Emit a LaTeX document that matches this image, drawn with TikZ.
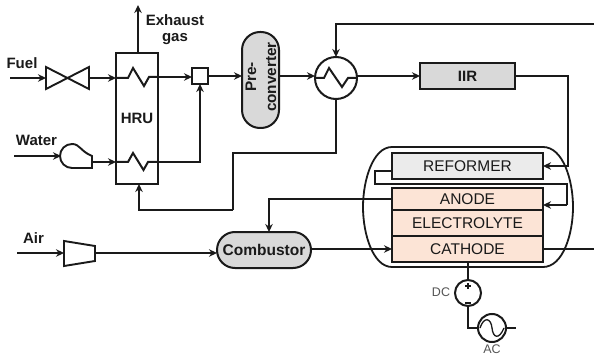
\documentclass[tikz,border=0pt]{standalone}
\usepackage{fontspec}
\setmainfont{Liberation Sans}
\usetikzlibrary{arrows.meta,calc}
\definecolor{ink}{HTML}{1A1A1A}
\definecolor{softgray}{HTML}{D9D9D9}
\definecolor{lightgray}{HTML}{EBEBEB}
\definecolor{peach}{HTML}{FCE4D6}
\definecolor{labelgray}{HTML}{555555}
\tikzset{
  pipe/.style={draw=ink,line width=2pt},
  flow/.style={pipe,-{Stealth[length=8pt,width=7.5pt]}},
  shell/.style={draw=ink,line width=2pt,inner sep=0pt,outer sep=0pt},
  anchorbox/.style={inner sep=0pt,outer sep=0pt},
  lab/.style={inner sep=0pt,font=\fontsize{15}{17}\selectfont\bfseries,text=ink},
  cell/.style={shell,fill=peach,minimum width=151pt,font=\fontsize{15.5}{17}\selectfont,text=ink},
  small/.style={inner sep=0pt,font=\fontsize{12.5}{14}\selectfont,text=labelgray}
}
\begin{document}
\begin{tikzpicture}[x=1pt,y=-1pt]
\useasboundingbox[fill=white] (0,0) rectangle (594,358);

% outer vessel
\draw[draw=ink,line width=1.8pt] (392,147) -- (543,147)
  .. controls (563,147) and (573,180) .. (573,207)
  .. controls (573,234) and (563,267) .. (543,267) -- (392,267)
  .. controls (373,267) and (363,234) .. (363,207)
  .. controls (363,180) and (373,147) .. (392,147);

% main nodes
\node[shell,minimum width=42pt,minimum height=131pt,lab] (hru) at (137,118.5) {HRU};
\node[shell,minimum width=16pt,minimum height=16pt] (mix) at (200,76) {};
\node[shell,fill=softgray,minimum width=37pt,minimum height=96pt,rounded corners=18pt] (pre) at (260.5,80) {};
\node[lab,rotate=90,align=center,font=\fontsize{15.3}{20}\selectfont\bfseries] at (261,77) {Pre-\\converter};
\node[shell,circle,minimum size=42pt] (hx) at (336,78) {};
\node[shell,fill=softgray,minimum width=95pt,minimum height=26pt,lab] (iir) at (467.5,76) {IIR};
\node[shell,fill=lightgray,minimum width=151pt,minimum height=26pt,font=\fontsize{15.5}{17}\selectfont,text=ink] (reformer) at (467.5,166) {REFORMER};
\node[cell,minimum height=22pt] (anode) at (467.5,199) {ANODE};
\node[cell,minimum height=26pt] (electrolyte) at (467.5,223) {ELECTROLYTE};
\node[cell,minimum height=26pt] (cathode) at (467.5,249) {CATHODE};
\node[shell,fill=softgray,minimum width=94pt,minimum height=36pt,rounded corners=18pt,lab,font=\fontsize{15.5}{17}\selectfont\bfseries] (comb) at (264,250) {Combustor};
\node[shell,circle,minimum size=26pt] (dc) at (468,293) {};
\node[shell,circle,minimum size=28pt] (ac) at (492,328) {};
\node[anchorbox,minimum width=43pt,minimum height=22pt] (valve) at (67.5,78) {};
\node[anchorbox,minimum width=31pt,minimum height=24pt] (pump) at (76.5,156) {};
\node[anchorbox,minimum width=31pt,minimum height=25pt] (comp) at (79.5,253) {};

% valve, pump, compressor
\draw[draw=ink,line width=1.9pt,line join=miter] (valve.north west) -- (valve.south east) -- (valve.north east) -- (valve.south west) -- cycle;
\draw[draw=ink,line width=1.9pt] (92,168) -- (72,168) arc[start angle=90,end angle=270,radius=12pt,y radius=-12pt] .. controls (80,144) and (80,151) .. (92,156) -- cycle;
\draw[draw=ink,line width=1.9pt] (64,241) -- (95,246) -- (95,261) -- (64,266) -- cycle;

% free ends
\coordinate (fuelin) at (10,78);
\coordinate (waterin) at (14,156);
\coordinate (airin) at (17,253);
\coordinate (exhaustout) at (138,5);
\coordinate (topin) at (594,24);
\coordinate (cathodeout) at (594,249);
\coordinate (acout) at (516,328);
\coordinate (hxdrop) at (233,153);
\coordinate (hrureturn) at (233,210);
\coordinate (rfa) at (375,171);
\coordinate (rfb) at (375,184);
\coordinate (rfc) at (567,184);
\coordinate (rfd) at (567,205);

% connectors
\draw[flow] (fuelin) -- (valve.west);
\draw[flow] (valve.east) -- (hru.west |- valve.east);
\draw[pipe] (hru.west |- valve.east) -- (128,78) -- (133,68) -- (144,86) -- (149,77) -- (hru.east |- 0,77);
\draw[flow] (hru.east |- 0,77) -- (mix.west |- 0,77);
\draw[flow] (mix.east) -- (pre.west |- mix.east);
\draw[flow] (pre.east |- 0,76) -- (hx.west |- 0,76);
\draw[pipe] (316,78) -- (324,78) -- (329,68) -- (342,87) -- (348,78) -- (hx.east);
\draw[flow] (hx.east |- iir.west) -- (iir.west);
\draw[flow] (topin) -| (hx.north);
\draw[flow] (iir.east) -| (568,120) |- (reformer.east);
\draw[pipe] (reformer.west |- rfa) -- (rfa) -- (rfb) -- (rfc) -- (rfd);
\draw[flow] (rfd) -- (anode.east |- rfd);
\draw[flow] (anode.west) -| (comb.north -| 269,0);
\draw[flow] (exhaustout |- hru.north) -- (exhaustout);
\draw[flow] (waterin) -- (pump.west);
\draw[flow] (pump.east |- 0,162) -- (hru.west |- 0,162);
\draw[pipe] (hru.west |- 0,162) -- (128,162) -- (133,153) -- (143.5,170) -- (148,162) -- (hru.east |- 0,162);
\draw[flow] (hru.east |- 0,162) -| (mix.south);
\draw[pipe] (hx.south) -- (hx.south |- hxdrop) -- (hxdrop) -- (hrureturn);
\draw[flow] (hrureturn) -- (139,210) -- (139,184);
\draw[flow] (airin) -- (comp.west);
\draw[flow] (comp.east) -- (comb.west |- comp.east);
\draw[flow] (comb.east |- cathode.west) -- (cathode.west);
\draw[pipe] (cathode.east) -- (cathodeout);
\draw[pipe] (cathode.south -| dc.north) -- (dc.north);
\draw[pipe] (dc.south) |- (ac.west);
\draw[pipe] (ac.east) -- (acout);

% electrical symbols
\draw[draw=ink,line width=1.3pt] (465,286) -- (471,286) (468,283) -- (468,289);
\draw[draw=ink,line width=1.3pt] (465,303) -- (471,303);
\draw[draw=ink,line width=1.3pt] (480,328) .. controls (484,316) and (491,318) .. (492,328) .. controls (493,338) and (499,340) .. (504,328);

% labels
\node[lab,anchor=center] (fuellab) at (22,63) {Fuel};
\node[lab] (waterlab) at (36.5,140) {Water};
\node[lab] (airlab) at (33.5,238) {Air};
\node[lab] (exh) at (175,20) {Exhaust};
\node[lab] (gas) at (175,39) {gas};
\node[small] (dclab) at (441,292) {DC};
\node[small] (aclab) at (492,349.5) {AC};
\end{tikzpicture}
\end{document}
